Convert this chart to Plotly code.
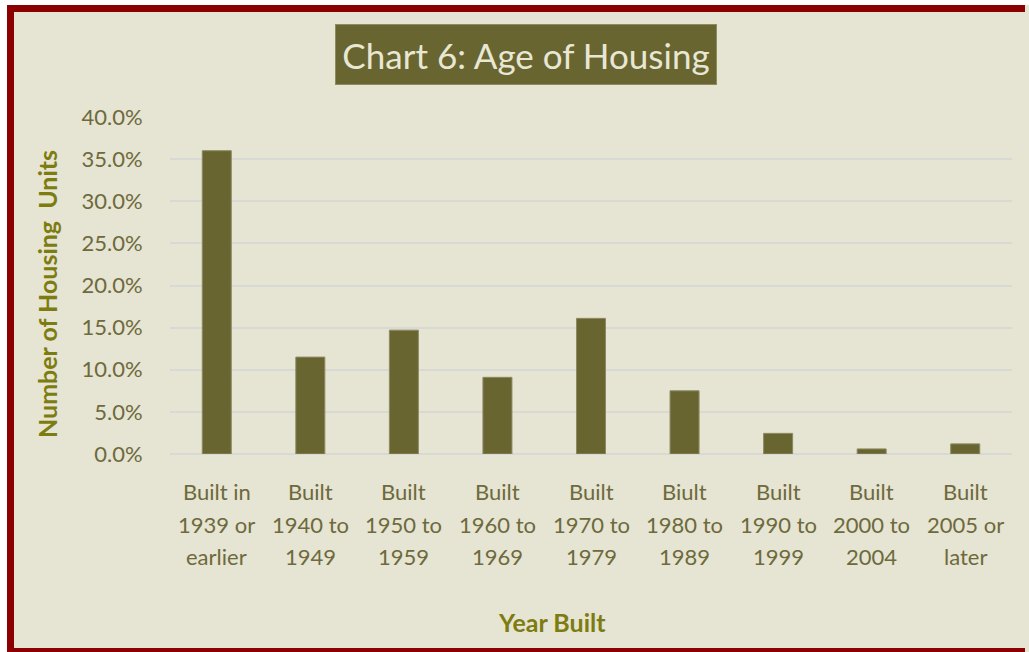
import plotly.graph_objects as go

categories = ["Built in 1939 or earlier", "Built 1940 to 1949", "Built 1950 to 1959",
              "Built 1960 to 1969", "Built 1970 to 1979", "Biult 1980 to 1989",
              "Built 1990 to 1999", "Built 2000 to 2004", "Built 2005 or later"]
label_lines = [["Built in", "1939 or", "earlier"], ["Built", "1940 to", "1949"],
               ["Built", "1950 to", "1959"], ["Built", "1960 to", "1969"],
               ["Built", "1970 to", "1979"], ["Biult", "1980 to", "1989"],
               ["Built", "1990 to", "1999"], ["Built", "2000 to", "2004"],
               ["Built", "2005 or", "later"]]
values = [36.0, 11.5, 14.7, 9.1, 16.1, 7.5, 2.45, 0.6, 1.2]
tick_vals = [0, 5, 10, 15, 20, 25, 30, 35, 40]
tick_text = ["0.0%", "5.0%", "10.0%", "15.0%", "20.0%", "25.0%", "30.0%", "35.0%", "40.0%"]

W, H = 1029, 652
L, R, T, B = 170, 1012, 117, 454
BG = "#e6e4d2"
BAR = "#686531"
TXT = "#6d6a3c"
TITLE_C = "#7d7c10"
FRAME = "#8b0000"
FONT = "Lato"


def px(x):
    return (x - L) / (R - L)


def py(y):
    return (B - y) / (B - T)


fig = go.Figure()
fig.add_trace(go.Bar(
    x=categories, y=values,
    marker=dict(color=BAR, line=dict(color="#8c8a62", width=1)),
    hoverinfo="skip",
))

annotations = []
for cat, lines in zip(categories, label_lines):
    for j, ln in enumerate(lines):
        annotations.append(dict(
            x=cat, y=0, xref="x", yref="y", text=ln, showarrow=False,
            yanchor="middle", xanchor="center", yshift=-(37.5 + 32.5 * j),
            font=dict(family=FONT, size=22, color=TXT),
        ))

# Title box
annotations.append(dict(
    x=px(525.7), y=py(54.5), xref="paper", yref="paper",
    text="Chart 6: Age of Housing", showarrow=False,
    xanchor="center", yanchor="middle", width=378, height=57,
    bgcolor=BAR, bordercolor="#8e8c5e", borderwidth=1, borderpad=1,
    font=dict(family=FONT, size=35, color="#e8e7d4"),
))
# Axis titles
annotations.append(dict(
    x=px(47), y=py(294), xref="paper", yref="paper",
    text="<b>Number of Housing  Units</b>", showarrow=False, textangle=-90,
    xanchor="center", yanchor="middle",
    font=dict(family=FONT, size=25, color=TITLE_C),
))
annotations.append(dict(
    x=px(551.7), y=py(621.5), xref="paper", yref="paper",
    text="<b>Year Built</b>", showarrow=False,
    xanchor="center", yanchor="middle",
    font=dict(family=FONT, size=25, color=TITLE_C),
))

shapes = [
    # white outside frame
    dict(type="rect", xref="paper", yref="paper",
         x0=px(0), x1=px(7), y0=py(652), y1=py(0),
         line=dict(width=0), fillcolor="white", layer="above"),
    dict(type="rect", xref="paper", yref="paper",
         x0=px(0), x1=px(1029), y0=py(5), y1=py(0),
         line=dict(width=0), fillcolor="white", layer="above"),
    # dark red frame: top, left, bottom
    dict(type="rect", xref="paper", yref="paper",
         x0=px(7), x1=px(1025), y0=py(12), y1=py(5),
         line=dict(width=0), fillcolor=FRAME, layer="above"),
    dict(type="rect", xref="paper", yref="paper",
         x0=px(7), x1=px(14), y0=py(652), y1=py(5),
         line=dict(width=0), fillcolor=FRAME, layer="above"),
    dict(type="rect", xref="paper", yref="paper",
         x0=px(7), x1=px(1025), y0=py(652), y1=py(648),
         line=dict(width=0), fillcolor=FRAME, layer="above"),
]

fig.update_layout(
    width=W, height=H,
    margin=dict(l=L, r=W - R, t=T, b=H - B, pad=0),
    paper_bgcolor=BG, plot_bgcolor=BG,
    showlegend=False,
    bargap=0.69,
    annotations=annotations,
    shapes=shapes,
    xaxis=dict(showticklabels=False, showgrid=False, zeroline=False, showline=False,
               ticks="", fixedrange=True),
    yaxis=dict(range=[0, 40], tickvals=tick_vals, ticktext=tick_text,
               showgrid=True, gridcolor="#d8d8d4", gridwidth=1.5,
               zeroline=True, zerolinecolor="#d8d8d4", zerolinewidth=1.5,
               showline=False, ticks="outside", ticklen=22, tickcolor="rgba(0,0,0,0)",
               tickfont=dict(family=FONT, size=22, color=TXT), fixedrange=True),
)

fig.write_html("out.html", config={"displayModeBar": False},
               post_script="document.body.style.margin='0';")
